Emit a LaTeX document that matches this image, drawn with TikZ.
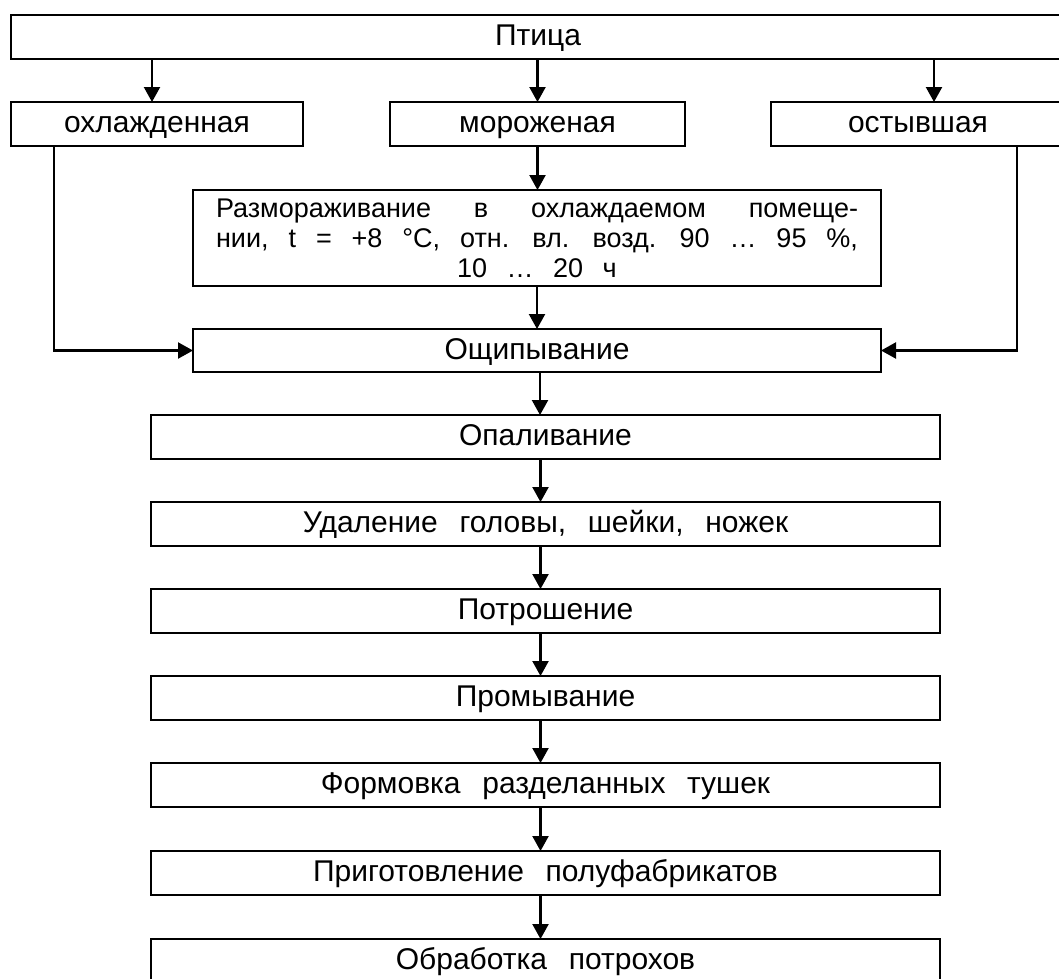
\documentclass[tikz,border=0pt]{standalone}
\usepackage{fontspec}
\setmainfont{Liberation Sans}[WordSpace=2.6]
\usetikzlibrary{arrows.meta, positioning, calc}
\tikzset{
  blk/.style={draw, line width=2.2pt, inner sep=0pt, outer sep=0pt, align=center,
              anchor=north west, font=\fontsize{30}{27}\selectfont},
  one/.style={text height=17pt, text depth=0pt},
  arr/.style={line width=2.2pt, -{Triangle[length=15pt, width=16pt]}}
}
\newcommand{\blok}[7][one]{% [стиль], x, y, ширина, высота, имя, текст
    \node[blk, #1, minimum width=#4pt, minimum height=#5pt] (#6) at (#2,#3) {#7};
}

\begin{document}
\begin{tikzpicture}[x=1pt, y=-1pt]
\useasboundingbox (0,0) rectangle (1059,978);

\blok{11}{15}{1054}{44}{ptica}{Птица}
\blok{11}{102}{292}{44}{ohl}{охлажденная}
\blok{390}{102}{295}{44}{mor}{мороженая}
\blok{771}{102}{294}{44}{ost}{остывшая}
\blok[font=\fontsize{27}{30}\selectfont]{193}{190}{688}{96}{razm}{%
    \makebox[642pt][s]{Размораживание в охлаждаемом помеще-}\\
    \makebox[642pt][s]{нии, t = +8 °C, отн. вл. возд. 90 \ldots\ 95 \%,}\\
    10 \ldots\ 20 ч}
\blok{193}{329}{688}{43}{oshch}{Ощипывание}
\blok{151}{415}{789}{44}{opal}{Опаливание}
\blok{151}{502}{789}{44}{udal}{Удаление головы, шейки, ножек}
\blok{151}{589}{789}{44}{potr}{Потрошение}
\blok{151}{676}{789}{44}{prom}{Промывание}
\blok{151}{763}{789}{44}{form}{Формовка разделанных тушек}
\blok{151}{851}{789}{44}{prig}{Приготовление полуфабрикатов}
\blok{151}{939}{789}{44}{obr}{Обработка потрохов}

% от птицы к видам сырья
\draw[arr] ([xshift=-5pt]ohl.north |- ptica.south) -- ([xshift=-5pt]ohl.north);
\draw[arr] (mor.north |- ptica.south) -- (mor.north);
\draw[arr] ([xshift=16pt]ost.north |- ptica.south) -- ([xshift=16pt]ost.north);

\draw[arr] (mor.south) -- (mor.south |- razm.north);
\draw[arr] (razm.south) -- (oshch.north);
\draw[arr] ([xshift=-103pt]ohl.south) |- (oshch.west);
\draw[arr] ([xshift=99pt]ost.south) |- (oshch.east);

\draw[arr] ([xshift=3pt]oshch.south) -- ([xshift=3pt]oshch.south |- opal.north);
\foreach \a/\b in {opal/udal, udal/potr, potr/prom, prom/form, form/prig, prig/obr}
    \draw[arr] ([xshift=-5pt]\a.south) -- ([xshift=-5pt]\b.north);

\end{tikzpicture}
\end{document}
